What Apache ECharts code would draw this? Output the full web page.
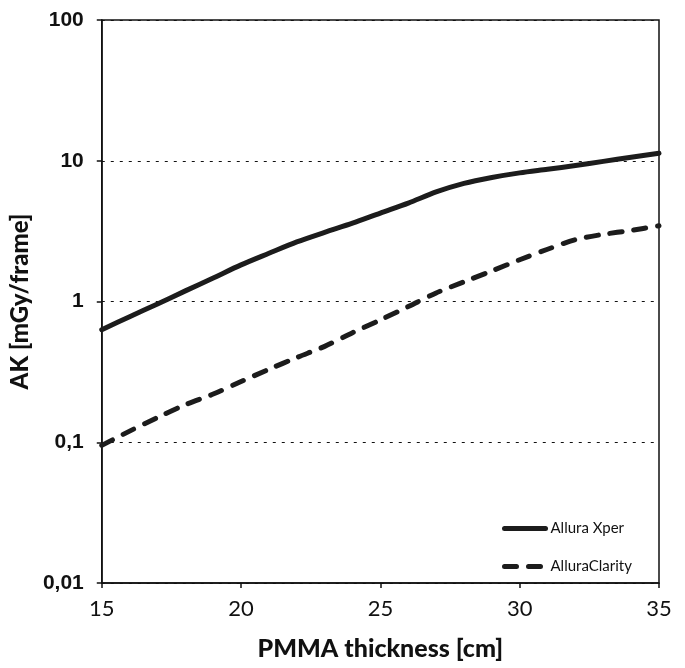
<!DOCTYPE html>
<html>
<head>
<meta charset="utf-8">
<script src="https://cdn.jsdelivr.net/npm/echarts@6/dist/echarts.min.js"></script>
<style>html,body{margin:0;padding:0;background:#fff}#c{width:685px;height:668px}</style>
</head>
<body>
<div id="c"></div>
<script>
const thickness = [15,16,17,18,19,20,21,22,23,24,25,26,27,28,29,30,31,32,33,34,35];
const xperAK = [0.63,0.78,0.96,1.19,1.47,1.82,2.2,2.65,3.1,3.6,4.25,5.0,6.0,6.9,7.6,8.2,8.7,9.25,9.9,10.6,11.3];
const clarityAK = [0.095,0.12,0.15,0.185,0.22,0.27,0.33,0.4,0.48,0.6,0.74,0.92,1.15,1.38,1.65,1.98,2.35,2.75,3.0,3.2,3.45];
const seriesNames = ['Allura Xper','AlluraClarity'];
const xTitle = 'PMMA thickness [cm]';
const yTitle = 'AK [mGy/frame]';

const chart = echarts.init(document.getElementById('c'));
const pairs = arr => thickness.map((x,i)=>[x,arr[i]]);
chart.setOption({
  animation:false,
  backgroundColor:'#fff',
  grid:{left:97,right:26,top:20,bottom:85,show:true,borderColor:'#111',borderWidth:1.5,backgroundColor:'transparent'},
  legend:{
    orient:'vertical',left:497,top:516,itemWidth:41,itemHeight:14,itemGap:23,
    itemStyle:{opacity:0},
    lineStyle:{width:5,cap:'round'},
    textStyle:{fontFamily:'Lato',fontSize:15,color:'#111'},
    data:seriesNames
  },
  xAxis:{
    type:'value',min:15,max:35,interval:5,
    axisLine:{lineStyle:{color:'#111',width:1.5}},
    axisTick:{show:true,inside:false,length:5,lineStyle:{color:'#111',width:1.5}},
    splitLine:{show:false},
    axisLabel:{fontFamily:'Lato',fontSize:22,color:'#111',margin:15},
    name:xTitle,nameLocation:'middle',nameGap:53,
    nameTextStyle:{fontFamily:'Lato',fontWeight:900,fontSize:25,color:'#111'}
  },
  yAxis:{
    type:'log',logBase:10,min:0.01,max:100,
    axisLine:{show:true,lineStyle:{color:'#111',width:1.5}},
    axisTick:{show:true,inside:false,length:5,lineStyle:{color:'#111',width:1.5}},
    splitLine:{show:true,lineStyle:{color:'#111',width:1.2,type:[3,6]}},
    minorTick:{show:false},
    axisLabel:{fontFamily:'Liberation Sans',fontWeight:'bold',fontSize:21,color:'#111',margin:18,
      formatter:v=>String(+v.toPrecision(6)).replace('.',',')},
    name:yTitle,nameLocation:'middle',nameGap:58,nameRotate:90,
    nameTextStyle:{fontFamily:'Lato',fontWeight:900,fontSize:24,color:'#111'}
  },
  series:[
    {name:seriesNames[0],type:'line',data:pairs(xperAK),symbol:'none',smooth:0.3,
     lineStyle:{color:'#1c1c1c',width:5,cap:'round',join:'round'},itemStyle:{color:'#1c1c1c'}},
    {name:seriesNames[1],type:'line',data:pairs(clarityAK),symbol:'none',smooth:0.3,
     lineStyle:{color:'#1c1c1c',width:5,type:[12,12],cap:'round',join:'round'},itemStyle:{color:'#1c1c1c'}}
  ]
});
</script>
</body>
</html>
